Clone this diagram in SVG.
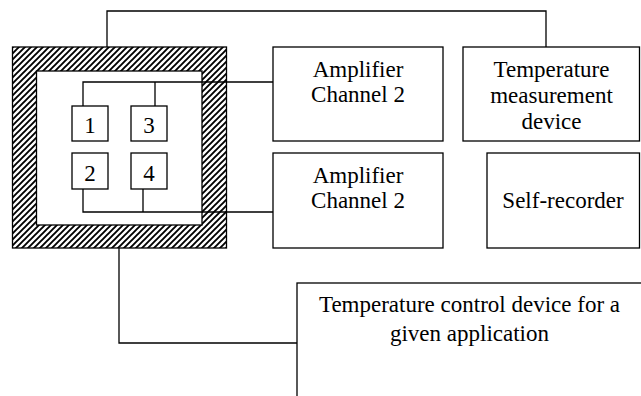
<svg xmlns="http://www.w3.org/2000/svg" width="641" height="396" viewBox="0 0 641 396">
<style>
.box{fill:#fff;stroke:#000;stroke-width:1.3}
.w{fill:none;stroke:#000;stroke-width:1.3}
text{font-family:"Liberation Serif","Times New Roman",serif;font-size:23px;fill:#000;text-anchor:middle}
</style>
<defs>
<pattern id="hatch" patternUnits="userSpaceOnUse" width="6" height="6">
<rect width="6" height="6" fill="#fff"/>
<path d="M-1.5,1.5 L1.5,-1.5 M0,6 L6,0 M4.5,7.5 L7.5,4.5" stroke="#000" stroke-width="1.9"/>
</pattern>
</defs>
<g id="chamber">
<rect x="12.5" y="47" width="214" height="201" fill="url(#hatch)" stroke="#000" stroke-width="1.3"/>
<rect x="36.5" y="71" width="165.5" height="154" class="box"/>
</g>
<g id="sensor1"><rect x="72" y="106" width="36" height="35" class="box"/><text x="90" y="133">1</text></g>
<g id="sensor3"><rect x="131" y="106" width="36" height="35" class="box"/><text x="149" y="133">3</text></g>
<g id="sensor2"><rect x="72" y="153" width="36" height="36" class="box"/><text x="90" y="181">2</text></g>
<g id="sensor4"><rect x="131" y="153" width="36" height="36" class="box"/><text x="149" y="181">4</text></g>
<g id="amp1"><rect x="273" y="47" width="170" height="94" class="box"/><text x="358" y="77">Amplifier</text><text x="358" y="102">Channel 2</text></g>
<g id="amp2"><rect x="273" y="153" width="170" height="95" class="box"/><text x="358" y="183">Amplifier</text><text x="358" y="208">Channel 2</text></g>
<g id="tmeas"><rect x="463" y="47" width="176.5" height="94" class="box"/><text x="551.5" y="77">Temperature</text><text x="551.5" y="103">measurement</text><text x="551.5" y="129">device</text></g>
<g id="recorder"><rect x="487" y="153" width="152.5" height="95" class="box"/><text x="563" y="208">Self-recorder</text></g>
<g id="tcontrol"><rect x="297" y="283" width="400" height="200" class="box"/><text x="469.5" y="312">Temperature control device for a</text><text x="469.5" y="341">given application</text></g>
<g id="connectors">
<path class="w" d="M107,47 V11 H546 V47"/>
<path class="w" d="M83,106 V82 H273 M155,82 V106"/>
<path class="w" d="M83,189 V212 H273 M143,189 V212"/>
<path class="w" d="M119,248 V343 H297"/>
</g>
</svg>
